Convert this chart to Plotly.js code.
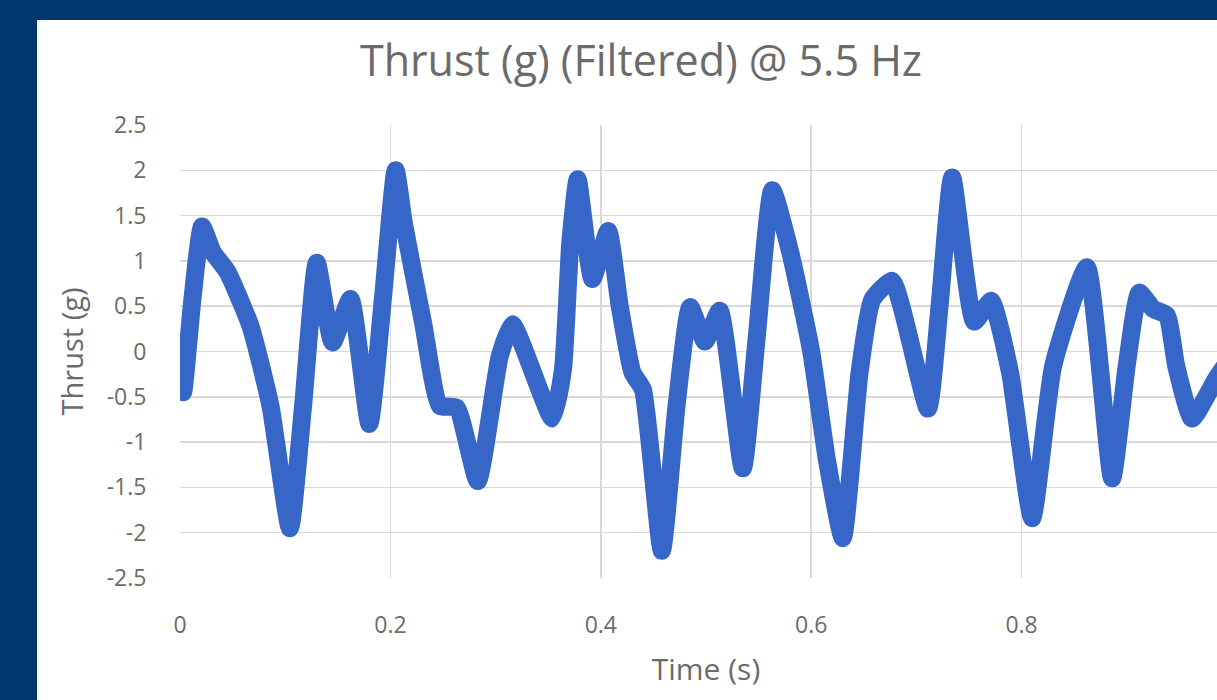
<!DOCTYPE html>
<html>
<head>
<meta charset="utf-8">
<script src="https://cdn.plot.ly/plotly-3.0.1.min.js"></script>
<style>
  html, body { margin: 0; padding: 0; width: 1217px; height: 700px; overflow: hidden; background: #00386E; }
  #chart { position: absolute; left: 37px; top: 20px; width: 1208px; height: 680px; background: #ffffff; }
</style>
</head>
<body>
<div id="chart"></div>
<script>
const chartTitle = "Thrust (g) (Filtered) @ 5.5 Hz";
const xTitle = "Time (s)";
const yTitle = "Thrust (g)";

const time = [0, 0.003, 0.012, 0.021, 0.031, 0.045, 0.067, 0.086, 0.1045, 0.117, 0.130, 0.145, 0.162, 0.18, 0.193, 0.205, 0.213, 0.231, 0.247, 0.263, 0.283, 0.304, 0.316, 0.354, 0.364, 0.371, 0.378, 0.392, 0.407, 0.418, 0.43, 0.44, 0.458, 0.472, 0.485, 0.499, 0.513, 0.535, 0.548, 0.563, 0.58, 0.6, 0.615, 0.63, 0.646, 0.658, 0.677, 0.711, 0.722, 0.734, 0.755, 0.771, 0.789, 0.81, 0.83, 0.862, 0.886, 0.9, 0.912, 0.925, 0.938, 0.947, 0.962, 0.985, 1.0];
const thrust = [-0.05, -0.45, 0.6, 1.38, 1.1, 0.88, 0.28, -0.6, -1.95, -0.6, 0.98, 0.1, 0.58, -0.8, 0.6, 2.0, 1.4, 0.32, -0.6, -0.62, -1.43, -0.05, 0.3, -0.74, -0.2, 1.2, 1.9, 0.8, 1.33, 0.5, -0.23, -0.42, -2.2, -0.6, 0.49, 0.11, 0.45, -1.29, 0.13, 1.78, 1.1, 0.0, -1.2, -2.06, -0.23, 0.57, 0.78, -0.63, 0.5, 1.92, 0.33, 0.56, -0.23, -1.84, -0.16, 0.93, -1.4, -0.15, 0.65, 0.47, 0.4, -0.16, -0.74, -0.3, -0.05];

const xTickVals = [0, 0.2, 0.4, 0.6, 0.8];
const xTickText = ["0", "0.2", "0.4", "0.6", "0.8"];
const yTickVals = [-2.5, -2, -1.5, -1, -0.5, 0, 0.5, 1, 1.5, 2, 2.5];
const yTickText = ["-2.5", "-2", "-1.5", "-1", "-0.5", "0", "0.5", "1", "1.5", "2", "2.5"];

const fontFam = "'Open Sans', Lato, sans-serif";
const textColor = "#6b6b6b";

const trace = {
  x: time, y: thrust, type: "scatter", mode: "lines",
  line: { color: "#3566C8", width: 18, shape: "spline", smoothing: 0.5 },
  hoverinfo: "x+y"
};

const layout = {
  width: 1208, height: 680,
  paper_bgcolor: "#ffffff", plot_bgcolor: "#ffffff",
  margin: { l: 143, r: 13, t: 105, b: 122 },
  showlegend: false,
  title: { text: chartTitle, font: { family: fontFam, size: 43, color: textColor },
           x: 0.5, xref: "container", xanchor: "center", y: 0.94, yref: "container", yanchor: "middle" },
  xaxis: {
    range: [0, 1], tickvals: xTickVals, ticktext: xTickText,
    showgrid: true, gridcolor: "#d9d9d9", gridwidth: 1.5, zeroline: false, showline: false,
    ticks: "outside", ticklen: 26, tickcolor: "rgba(0,0,0,0)",
    tickfont: { family: fontFam, size: 23, color: textColor },
    title: { text: xTitle, font: { family: fontFam, size: 30, color: textColor }, standoff: 20 },
    fixedrange: true
  },
  yaxis: {
    range: [-2.5, 2.5], tickvals: yTickVals, ticktext: yTickText,
    showgrid: true, gridcolor: "#d9d9d9", gridwidth: 1.5, zeroline: false, showline: false,
    ticks: "outside", ticklen: 28, tickcolor: "rgba(0,0,0,0)",
    tickfont: { family: fontFam, size: 23, color: textColor },
    title: { text: yTitle, font: { family: fontFam, size: 29, color: textColor }, standoff: 14 },
    fixedrange: true
  }
};

Plotly.newPlot("chart", [trace], layout, { displayModeBar: false, staticPlot: true });
</script>
</body>
</html>
